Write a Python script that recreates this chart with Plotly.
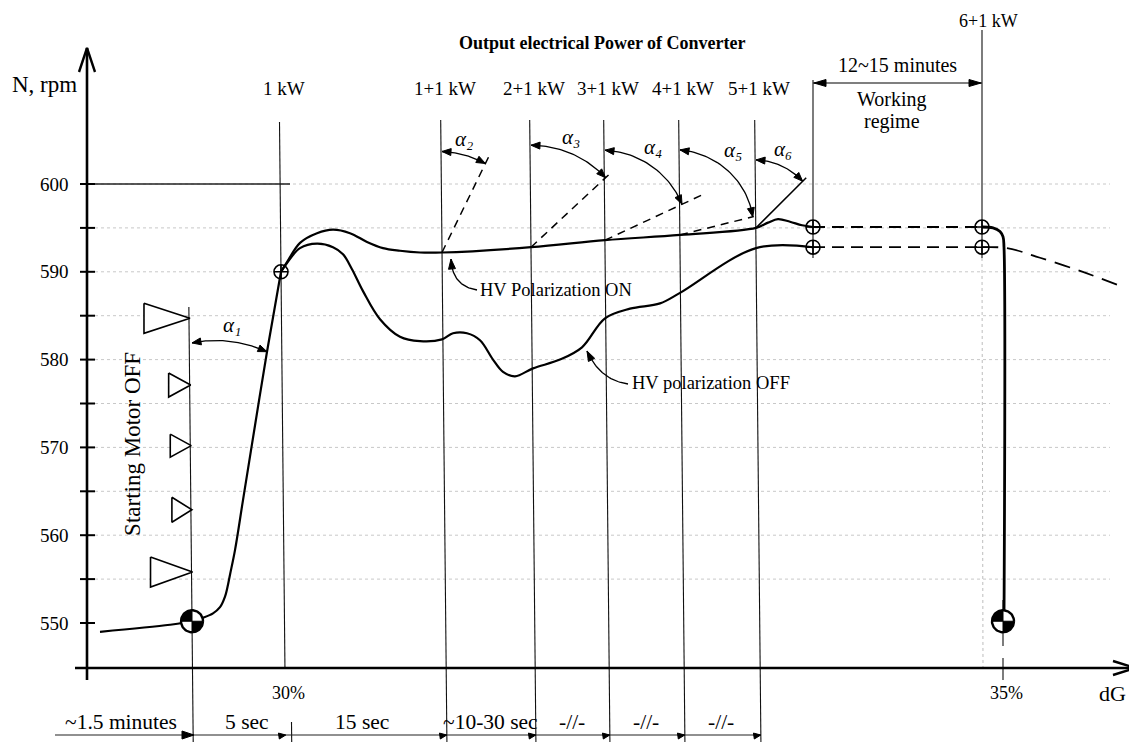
import numpy as np
import plotly.graph_objects as go

# ---------------- data ----------------
y_ticks = [550, 560, 570, 580, 590, 600]
y_grid = [555, 560, 565, 570, 575, 580, 585, 590, 595, 600]

motor_off_x = 192
event_labels = ["1 kW", "1+1 kW", "2+1 kW", "3+1 kW", "4+1 kW", "5+1 kW"]
event_x = [281, 442, 531, 605, 680, 756]
regime_x = [813, 982]
final_label = "6+1 kW"
stop_x = 1004
dg_labels = ["30%", "35%"]
dg_x = [287, 1005]

interval_labels = ["~1.5 minutes", "5 sec", "15 sec", "~10-30 sec", "-//-", "-//-", "-//-"]
interval_x = [121, 247, 362, 490, 572, 646, 721]

# start-up (Starting motor -> 1 kW)
start_x = [100, 170, 192, 203, 213, 220, 225, 227.5, 230, 235, 243, 255, 267, 281]
start_rpm = [549.0, 549.8, 550.2, 550.6, 551.1, 551.8, 553.0, 554.1, 555.5, 558.3, 564.0, 572.5, 580.9, 590.0]

# HV polarization ON
on_x = [281, 287, 300, 317, 333, 350, 367, 383, 400, 420, 442, 531, 605, 680, 756, 768, 778, 790, 802, 813]
on_rpm = [590.0, 591.1, 593.3, 594.4, 594.8, 594.4, 593.4, 592.7, 592.4, 592.2, 592.2, 592.8, 593.6, 594.2,
          595.0, 595.6, 596.0, 595.7, 595.3, 595.1]

# HV polarization OFF
off_x = [281, 287, 300, 317, 333, 343, 352, 363, 380, 400, 420, 442, 453, 467, 480, 493, 503, 515, 533,
         560, 582, 605, 630, 660, 680, 756, 813]
off_rpm = [590.0, 591.0, 592.7, 593.2, 592.8, 592.0, 590.3, 587.8, 584.6, 582.6, 582.1, 582.3, 583.0, 583.0,
           582.2, 580.0, 578.6, 578.1, 579.0, 580.0, 581.4, 584.7, 585.8, 586.4, 587.6, 592.7, 592.8]

regime_on = 595.1
regime_off = 592.8

stop_on_x = [982, 993, 1000, 1003, 1004, 1004]
stop_on_rpm = [595.1, 595.0, 594.6, 594.0, 592.8, 550.3]
tail_off_x = [982, 1007, 1040, 1080, 1118]
tail_off_rpm = [592.8, 592.7, 591.6, 590.1, 588.5]

start_point = (192, 550.2)
stop_point = (1003, 550.2)

flag_rpm = [584.7, 577.1, 570.2, 562.9, 555.8]

alpha_names = ["₂", "₃", "₄", "₅", "₆"]
alpha_angle = [26, 47, 65, 76, 45]          # degrees from vertical
alpha1 = ((192, 581.9), (267, 580.9))

# ---------------- geometry / style ----------------
W, H = 1137, 742
OFF = 8             # page body margin
K = 8.78            # px per rpm
Y550 = 623          # page px position of 550 rpm
SKEW = 0.01         # scan skew of vertical guide lines


def px2v(p):
    return 550 + (Y550 - p) / K


def v2px(v):
    return Y550 - (v - 550) * K


V_TOP, V_BOT = px2v(OFF), px2v(OFF + H)
X_AXIS_V = px2v(668)
Y_AXIS_X = 87
FONT = "Liberation Serif"

fig = go.Figure()


def add_line(xs, ys, width=1.0, color="black", dash="solid", shape="linear", fill=None, fillcolor=None):
    fig.add_trace(go.Scatter(x=xs, y=ys, mode="lines", hoverinfo="skip",
                             line=dict(color=color, width=width, dash=dash, shape=shape),
                             fill=fill, fillcolor=fillcolor))


def segs(list_of_pairs):
    xs, ys = [], []
    for (x0, y0), (x1, y1) in list_of_pairs:
        xs += [x0, x1, None]
        ys += [y0, y1, None]
    return xs, ys


def skewed(x_ref, v_ref, v_a, v_b):
    xa = x_ref + SKEW * (v2px(v_a) - v2px(v_ref))
    xb = x_ref + SKEW * (v2px(v_b) - v2px(v_ref))
    return (xa, v_a), (xb, v_b)


def head(tip, frm, length=9, half=3.5, closed=True):
    dx, dy = tip[0] - frm[0], tip[1] - frm[1]
    n = np.hypot(dx, dy)
    ux, uy = dx / n, dy / n
    bx, by = tip[0] - ux * length, tip[1] - uy * length
    nx, ny = -uy, ux
    pts = [(bx + nx * half, by + ny * half), tip, (bx - nx * half, by - ny * half)]
    if closed:
        pts.append(pts[0])
    return [p[0] for p in pts], [px2v(p[1]) for p in pts]


open_heads_x, open_heads_y = [], []
fill_heads_x, fill_heads_y = [], []


def add_open(tip, frm, length, half):
    xs, ys = head(tip, frm, length, half, closed=False)
    open_heads_x.extend(xs + [None])
    open_heads_y.extend(ys + [None])


def add_fill(tip, frm, length=9, half=3.5):
    xs, ys = head(tip, frm, length, half, closed=True)
    fill_heads_x.extend(xs + [None])
    fill_heads_y.extend(ys + [None])


# ---- faint grid ----
gx, gy = segs([((95, v), (1110, v)) for v in y_grid])
add_line(gx, gy, width=1, color="#c8c8c8", dash="dot")
add_line([Y_AXIS_X, 290], [600, 600], width=1.3, color="#222")
add_line([982, 983], [px2v(258), X_AXIS_V], width=1, color="#bdbdbd", dash="dot")

# ---- vertical guide lines ----
vl = []
vl.append(skewed(motor_off_x, 550.2, px2v(307), V_BOT))
vl.append(skewed(event_x[0], 590, px2v(122), X_AXIS_V))
vl.append(skewed(dg_x[0], 590, px2v(722), V_BOT))
for x in event_x[1:]:
    vl.append(skewed(x, 592.5, px2v(120), V_BOT))
vl.append(((regime_x[0], px2v(80)), (regime_x[0], px2v(258))))
vl.append(((regime_x[1], px2v(30)), (regime_x[1], px2v(258))))
vl.append(((dg_x[1] - 2, px2v(600)), (dg_x[1] - 2, px2v(646))))
vl.append(((dg_x[1] - 2, px2v(658)), (dg_x[1] - 2, px2v(680))))
vx, vy = segs(vl)
add_line(vx, vy, width=1.1, color="#111")

# ---- axes ----
add_line([Y_AXIS_X, Y_AXIS_X], [px2v(680), px2v(48)], width=2.6)
add_line([75, 1135], [X_AXIS_V, X_AXIS_V], width=2.6)
add_open((Y_AXIS_X, 48), (Y_AXIS_X, 100), 24, 8)
add_open((1135, 668), (1000, 668), 22, 7)
tx, ty = segs([((80, v), (95, v)) for v in range(550, 601, 5)])
add_line(tx, ty, width=2)

# ---- time-interval arrow row ----
row_v = px2v(735)
add_line([55, event_x[-1] + 5], [row_v, row_v], width=1.1, color="#222")
add_fill((motor_off_x + 2, 735), (100, 735), 12, 4)
for x in event_x:
    xx = x + SKEW * (735 - 255)
    add_fill((xx, 735), (xx - 20, 738), 7, 3)

# ---- starting motor OFF flags ----
flag_size = [(15, 46), (12, 22), (11.5, 21), (12.5, 20), (15, 42)]
fx, fy = [], []
for v, (hh, ln) in zip(flag_rpm, flag_size):
    p = v2px(v)
    tipx = motor_off_x + 1 + SKEW * (p - 620)
    fx += [tipx - ln, tipx - ln, tipx, tipx - ln, None]
    fy += [px2v(p - hh), px2v(p + hh), v, px2v(p - hh), None]
fig.add_trace(go.Scatter(x=fx, y=fy, mode="lines", fill="toself", fillcolor="white",
                         line=dict(color="black", width=1.6), hoverinfo="skip"))

# ---- curves ----
add_line(start_x, start_rpm, width=2.2, shape="spline")
add_line(on_x, on_rpm, width=2.2, shape="spline")
add_line(off_x, off_rpm, width=2.2, shape="spline")
add_line(regime_x, [regime_on, regime_on], width=1.8, dash="12px,7px")
add_line(regime_x, [regime_off, regime_off], width=1.8, dash="12px,7px")
add_line(stop_on_x, stop_on_rpm, width=2.8, shape="spline")
add_line(tail_off_x, tail_off_rpm, width=1.8, dash="16px,9px", shape="spline")

# ---- angle construction alpha2..alpha6 ----
on_at_event = [float(np.interp(x, on_x, on_rpm)) for x in event_x[1:]]
r_top = [101, 102, 90, 85, 68]
r_end = [99, 102, 85, 75, 66]
ray_len = [112, 109, 110, 76, 71]
ray_dash = ["8px,6px", "8px,6px", "8px,6px", "8px,6px", "solid"]
alpha_text = []
for i, (cx, cv) in enumerate(zip(event_x[1:], on_at_event)):
    cy = v2px(cv)
    th = np.radians(alpha_angle[i])
    rx = [cx, cx + ray_len[i] * np.sin(th)]
    ry = [cv, px2v(cy - ray_len[i] * np.cos(th))]
    add_line(rx, ry, width=1.5, dash=ray_dash[i])
    t = np.linspace(0, 1, 40)
    ang = th * t
    rr = r_top[i] + (r_end[i] - r_top[i]) * t
    ax_ = cx + rr * np.sin(ang)
    ay_ = cy - rr * np.cos(ang)
    add_line(list(ax_), [px2v(v) for v in ay_], width=1.3)
    add_fill((ax_[0], ay_[0]), (ax_[4], ay_[4]))
    add_fill((ax_[-1], ay_[-1]), (ax_[-5], ay_[-5]))
    la = th * 0.42
    lr = r_top[i] + 15
    alpha_text.append((cx + lr * np.sin(la), px2v(cy - lr * np.cos(la)), alpha_names[i]))

# alpha1
(p0x, p0v), (p2x, p2v) = alpha1
P0 = np.array([p0x, v2px(p0v)])
P2 = np.array([p2x, v2px(p2v)])
P1 = (P0 + P2) / 2 + np.array([0, -12])
t = np.linspace(0, 1, 40)[:, None]
B = (1 - t) ** 2 * P0 + 2 * (1 - t) * t * P1 + t ** 2 * P2
add_line(list(B[:, 0]), [px2v(v) for v in B[:, 1]], width=1.3)
add_fill(tuple(B[0]), tuple(B[4]))
add_fill(tuple(B[-1]), tuple(B[-5]))
mid = B[20]
alpha_text.append((mid[0] + 2, px2v(mid[1] - 16), "₁"))

# ---- leader curves to the HV labels ----
leaders = [((477, 290), (452, 286), (451, 259)), ((628, 384), (600, 380), (587, 351))]
for a, b, c in leaders:
    A, Bc, C = np.array(a), np.array(b), np.array(c)
    L = (1 - t) ** 2 * A + 2 * (1 - t) * t * Bc + t ** 2 * C
    add_line(list(L[:, 0]), [px2v(v) for v in L[:, 1]], width=1.3)
    add_fill(tuple(L[-1]), tuple(L[-6]), 10, 3.5)

# ---- working regime arrow ----
reg_v = px2v(83)
add_line(regime_x, [reg_v, reg_v], width=1.2)
add_fill((regime_x[0] + 1, 83), (regime_x[0] + 30, 83), 12, 3.5)
add_fill((regime_x[1] - 1, 83), (regime_x[1] - 30, 83), 12, 3.5)

fig.add_trace(go.Scatter(x=open_heads_x, y=open_heads_y, mode="lines",
                         line=dict(color="black", width=2.4), hoverinfo="skip"))
fig.add_trace(go.Scatter(x=fill_heads_x, y=fill_heads_y, mode="lines", fill="toself",
                         fillcolor="black", line=dict(color="black", width=1), hoverinfo="skip"))

# ---- open markers ----
fig.add_trace(go.Scatter(
    x=[event_x[0], regime_x[0], regime_x[0], regime_x[1], regime_x[1]],
    y=[590.0, regime_on, regime_off, regime_on, regime_off],
    mode="markers", hoverinfo="skip",
    marker=dict(symbol="circle-cross-open", size=14, color="black", line=dict(width=1.6))))


# ---- quartered markers ----
def quartered(cx, cv, r=11):
    cy = v2px(cv)
    tt = np.linspace(0, 2 * np.pi, 73)
    cxs = cx + r * np.cos(tt)
    cys = cy + r * np.sin(tt)
    fig.add_trace(go.Scatter(x=list(cxs), y=[px2v(v) for v in cys], mode="lines", fill="toself",
                             fillcolor="white", line=dict(color="black", width=2.4), hoverinfo="skip"))
    wx, wy = [], []
    for a0 in (np.pi, 0.0):
        aa = np.linspace(a0, a0 + np.pi / 2, 20)
        xs = [cx] + list(cx + r * np.cos(aa)) + [cx]
        ys = [cy] + list(cy + r * np.sin(aa)) + [cy]
        wx += xs + [None]
        wy += [px2v(v) for v in ys] + [None]
    fig.add_trace(go.Scatter(x=wx, y=wy, mode="lines", fill="toself", fillcolor="black",
                             line=dict(color="black", width=1), hoverinfo="skip"))


quartered(*start_point)
quartered(*stop_point)

# ---------------- text ----------------
ann = []


def text(x, y, s, size=19, xanchor="center", bold=False, angle=0, italic=False):
    if bold:
        s = "<b>" + s + "</b>"
    if italic:
        s = "<i>" + s + "</i>"
    ann.append(dict(x=x, y=y, xref="x", yref="y", text=s, showarrow=False, xanchor=xanchor,
                    yanchor="middle", textangle=angle,
                    font=dict(family=FONT, size=size, color="black")))


for v in y_ticks:
    text(71, v, str(v), size=19, xanchor="right")
text(44, 611.3, "N, rpm", size=23)
text(602, 616.1, "Output electrical Power of Converter", size=18, bold=True)
for lab, x in zip(event_labels, event_x):
    text(x + 3, 610.9, lab, size=19)
text(988, 618.6, final_label, size=18)
text(897, 613.6, "12~15 minutes", size=20)
text(892, 609.6, "Working", size=20)
text(892, 607.1, "regime", size=20)
text(133, 570.4, "Starting Motor OFF", size=23, angle=-90)
text(478, 587.9, "HV Polarization ON", size=18.5, xanchor="left")
text(630, 577.3, "HV polarization OFF", size=18.5, xanchor="left")
for lab, x in zip(dg_labels, dg_x):
    text(x + 1, 542.0, lab, size=18)
text(1112, 542.0, "dG", size=22)
for lab, x in zip(interval_labels, interval_x):
    text(x, 538.7, lab, size=21.5)
for x, v, n in alpha_text:
    text(x, v, "α" + n, size=21, italic=True)

fig.update_layout(
    width=W, height=H, margin=dict(l=0, r=0, t=0, b=0),
    paper_bgcolor="white", plot_bgcolor="white", showlegend=False,
    xaxis=dict(range=[OFF, OFF + W], visible=False, fixedrange=True),
    yaxis=dict(range=[V_BOT, V_TOP], visible=False, fixedrange=True),
    annotations=ann,
)

fig.write_html("out.html")
